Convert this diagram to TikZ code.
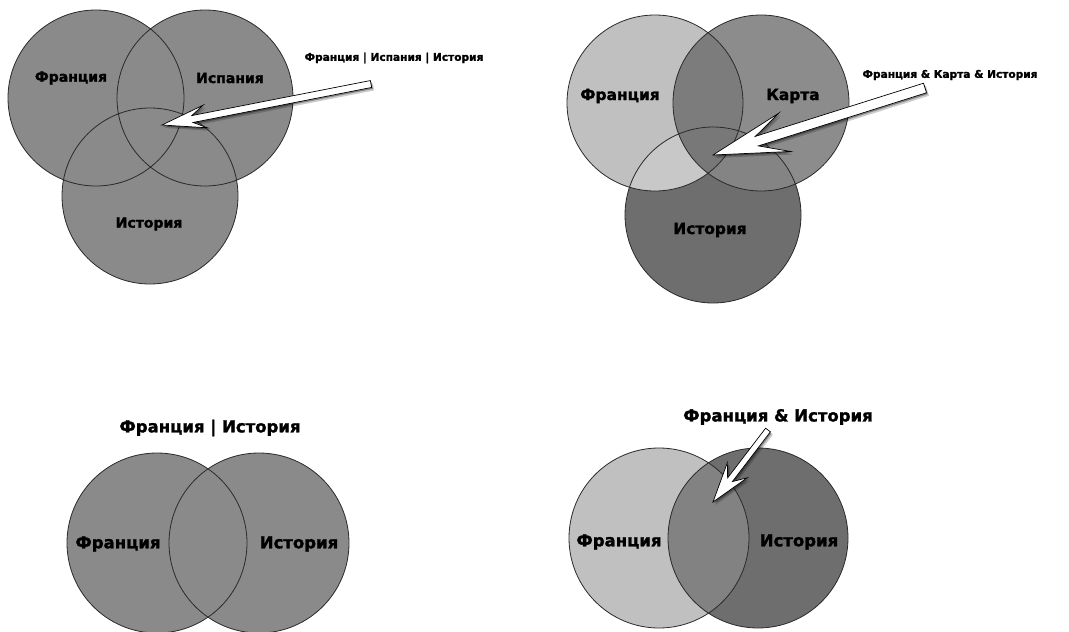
\documentclass[tikz,border=0pt]{standalone}
\usepackage{fontspec}
\setmainfont[BoldFeatures={FakeBold=1.6}]{DejaVu Sans}
\usetikzlibrary{calc,shadows}

\definecolor{ringc}{HTML}{2A2A2A}
\definecolor{midc}{HTML}{8A8A8A}
\definecolor{lightc}{HTML}{C0C0C0}
\definecolor{darkc}{HTML}{6E6E6E}
\definecolor{kartac}{HTML}{8C8C8C}
\definecolor{frkac}{HTML}{7C7C7C}
\definecolor{frisc}{HTML}{C8C8C8}
\definecolor{kaisc}{HTML}{848484}
\definecolor{allc}{HTML}{787878}
\definecolor{interc}{HTML}{828282}

% fat white arrow: tail, tip, shaft half width, neck, head length, head half width
\newcommand{\fatarrow}[6]{%
  \coordinate (#2-n) at ($(#2)!#4!(#1)$);
  \coordinate (#2-b) at ($(#2)!#5!(#1)$);
  \filldraw[bigarrow] ($(#1)!#3!90:(#2)$) -- ($(#2-n)!#3!90:(#2)$) -- ($(#2-b)!#6!90:(#2)$)
    -- (#2) -- ($(#2-b)!#6!-90:(#2)$) -- ($(#2-n)!#3!-90:(#2)$) -- ($(#1)!#3!-90:(#2)$) -- cycle;
}

\begin{document}
\begin{tikzpicture}[x=1pt,y=-1pt,
    ring/.style={draw=ringc,line width=0.8pt},
    bigarrow/.style={fill=white,draw=black,line width=0.7pt,line join=miter,
      drop shadow={shadow xshift=2.5pt,shadow yshift=-3pt,opacity=0.2,fill=black},
      drop shadow={shadow xshift=1.2pt,shadow yshift=-1.5pt,opacity=0.35,fill=black}},
    small/.style={font=\bfseries\fontsize{14}{16}\selectfont},
    medium/.style={font=\bfseries\fontsize{15.4}{18}\selectfont},
    large/.style={font=\bfseries\fontsize{16.5}{19}\selectfont},
    note/.style={font=\bfseries\fontsize{10.6}{12}\selectfont}]
  \useasboundingbox (0,0) rectangle (1069,632);

  % top left: F | S | I
  \coordinate (fa) at (96,98);
  \coordinate (sa) at (205,98);
  \coordinate (ia) at (150,196);
  \fill[midc] (fa) circle (88) (sa) circle (88) (ia) circle (88);
  \draw[ring] (fa) circle (88) (sa) circle (88) (ia) circle (88);
  \node[small] (fa lbl) at (71,78) {Франция};
  \node[small] (sa lbl) at (230,78) {Испания};
  \node[small] (ia lbl) at (149,224) {История};
  \node[note] (a note) at (394,58) {Франция | Испания | История};
  \coordinate (a tail) at (371,84);
  \coordinate (a tip) at (162,125);
  \fatarrow{a tail}{a tip}{3.5pt}{31pt}{44pt}{11.5pt}

  % top right: F & K & I
  \coordinate (fb) at (655,103);
  \coordinate (kb) at (761,103);
  \coordinate (ib) at (713,215);
  \fill[lightc] (fb) circle (88);
  \fill[kartac] (kb) circle (88);
  \fill[darkc] (ib) circle (88);
  \begin{scope}
    \clip (fb) circle (88);
    \fill[frkac] (kb) circle (88);
    \fill[frisc] (ib) circle (88);
  \end{scope}
  \begin{scope}
    \clip (kb) circle (88);
    \fill[kaisc] (ib) circle (88);
  \end{scope}
  \begin{scope}
    \clip (fb) circle (88);
    \clip (kb) circle (88);
    \fill[allc] (ib) circle (88);
  \end{scope}
  \draw[ring] (fb) circle (88) (kb) circle (88) (ib) circle (88);
  \node[medium] (fb lbl) at (620,96) {Франция};
  \node[medium] (kb lbl) at (793,96) {Карта};
  \node[medium] (ib lbl) at (710,230) {История};
  \node[note] (b note) at (950,75) {Франция \& Карта \& История};
  \coordinate (b tail) at (925,88);
  \coordinate (b tip) at (713,155);
  \fatarrow{b tail}{b tip}{5pt}{46pt}{75pt}{20pt}

  % bottom left: F | I
  \coordinate (fc) at (157,543);
  \coordinate (ic) at (259,543);
  \fill[midc] (fc) circle (90) (ic) circle (90);
  \draw[ring] (fc) circle (90) (ic) circle (90);
  \node[large] (c title) at (210,428) {Франция | История};
  \node[large] (fc lbl) at (118,544) {Франция};
  \node[large] (ic lbl) at (299,544) {История};

  % bottom right: F & I
  \coordinate (fd) at (659,538);
  \coordinate (id) at (758,538);
  \fill[lightc] (fd) circle (90);
  \fill[darkc] (id) circle (90);
  \begin{scope}
    \clip (fd) circle (90);
    \fill[interc] (id) circle (90);
  \end{scope}
  \draw[ring] (fd) circle (90) (id) circle (90);
  \node[large] (d title) at (778,417) {Франция \& История};
  \node[large] (fd lbl) at (619,542) {Франция};
  \node[large] (id lbl) at (799,542) {История};
  \coordinate (d tail) at (768,430);
  \coordinate (d tip) at (713,502);
  \fatarrow{d tail}{d tip}{3pt}{28pt}{40pt}{12.5pt}
\end{tikzpicture}
\end{document}
